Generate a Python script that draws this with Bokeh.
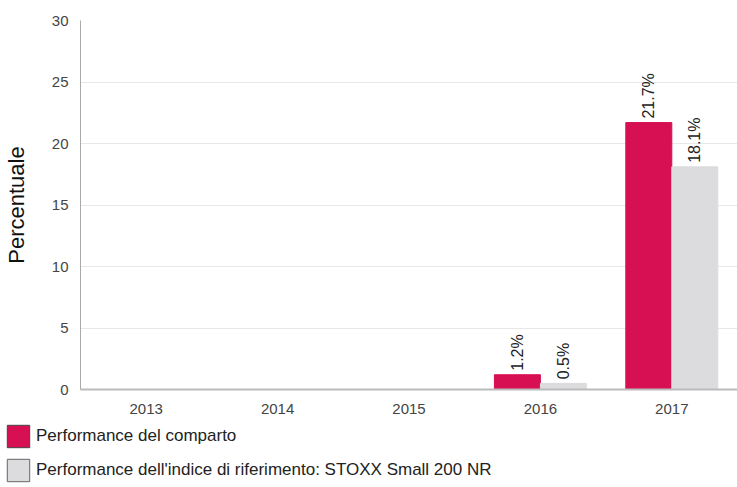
import math
from bokeh.plotting import figure
from bokeh.layouts import column, row
from bokeh.models import ColumnDataSource, FactorRange, Legend, LegendItem, Range1d
from bokeh.transform import dodge
from bokeh.core.properties import value
from bokeh.embed import file_html
from bokeh.resources import INLINE

years = ["2013", "2014", "2015", "2016", "2017"]
fund = [float("nan"), float("nan"), float("nan"), 1.2, 21.7]
index = [float("nan"), float("nan"), float("nan"), 0.5, 18.1]
fund_name = "Performance del comparto"
index_name = "Performance dell'indice di riferimento: STOXX Small 200 NR"
y_ticks = [0, 5, 10, 15, 20, 25, 30]

RED = "#d70f53"
GREY = "#dcdcde"
FONT = "Liberation Sans"

src = ColumnDataSource(dict(
    year=years, fund=fund, index=index,
    fund_lbl=["" if math.isnan(v) else f"{v:.1f}%" for v in fund],
    index_lbl=["" if math.isnan(v) else f"{v:.1f}%" for v in index],
))

p = figure(x_range=FactorRange(factors=years, range_padding=0), y_range=(0, 30),
           width=737, height=417, output_backend="svg", toolbar_location=None,
           min_border_left=72, min_border_right=0, min_border_top=20, min_border_bottom=28)

p.vbar(x=dodge("year", -0.175, range=p.x_range), top="fund", width=0.35, source=src,
       fill_color=RED, line_color=RED)
p.vbar(x=dodge("year", 0.175, range=p.x_range), top="index", width=0.35, source=src,
       fill_color=GREY, line_color=GREY)

p.text(x=dodge("year", -0.175, range=p.x_range), y="fund", text="fund_lbl", source=src,
       angle=math.pi / 2, text_align="left", text_baseline="middle", y_offset=-4,
       text_font=value(FONT), text_font_size="16px", text_color="#222")
p.text(x=dodge("year", 0.175, range=p.x_range), y="index", text="index_lbl", source=src,
       angle=math.pi / 2, text_align="left", text_baseline="middle", y_offset=-4,
       text_font=value(FONT), text_font_size="16px", text_color="#222")

p.xgrid.grid_line_color = None
p.ygrid.grid_line_color = "#e8e8e8"
p.ygrid.ticker = y_ticks
p.yaxis.ticker = y_ticks
p.outline_line_color = None

p.yaxis.axis_label = "Percentuale"
p.yaxis.axis_label_text_font = FONT
p.yaxis.axis_label_text_font_size = "22px"
p.yaxis.axis_label_text_font_style = "normal"
p.yaxis.axis_label_text_color = "#111"
p.yaxis.axis_label_standoff = 20
p.yaxis.axis_line_color = "#aaa"
p.yaxis.major_tick_line_color = None
p.yaxis.minor_tick_line_color = None
p.yaxis.major_label_text_font = FONT
p.yaxis.major_label_text_font_size = "15px"
p.yaxis.major_label_text_color = "#444"
p.yaxis.major_label_standoff = 6

p.xaxis.axis_line_color = "#bbb"
p.xaxis.axis_line_width = 2
p.xaxis.major_tick_line_color = None
p.xaxis.minor_tick_line_color = None
p.xaxis.major_label_text_font = FONT
p.xaxis.major_label_text_font_size = "15px"
p.xaxis.major_label_text_color = "#444"
p.xaxis.major_label_standoff = 8

# legend in its own small figure below the chart; swatch renderers use the same
# data but sit on a y range where the bars stay out of view
lf = figure(width=737, height=67, output_backend="svg", toolbar_location=None,
            x_range=FactorRange(factors=years), y_range=Range1d(1000, 1001),
            x_axis_location=None, y_axis_location=None,
            min_border=0, outline_line_color=None)
lf.grid.visible = False
r1 = lf.vbar(x="year", top="fund", width=0.35, source=src, fill_color=RED, line_color="#444")
r2 = lf.vbar(x="year", top="index", width=0.35, source=src, fill_color=GREY, line_color="#666")
legend = Legend(items=[LegendItem(label=fund_name, renderers=[r1]),
                       LegendItem(label=index_name, renderers=[r2])],
                location=(4, 0), orientation="vertical",
                label_text_font=FONT, label_text_font_size="17px", label_text_color="#222",
                glyph_width=28, glyph_height=28, spacing=6, padding=0, margin=0,
                label_standoff=4, border_line_color=None, background_fill_alpha=0)
lf.add_layout(legend, "center")

layout = column(p, row(lf), spacing=0)
open("out.html", "w").write(file_html(layout, INLINE))
